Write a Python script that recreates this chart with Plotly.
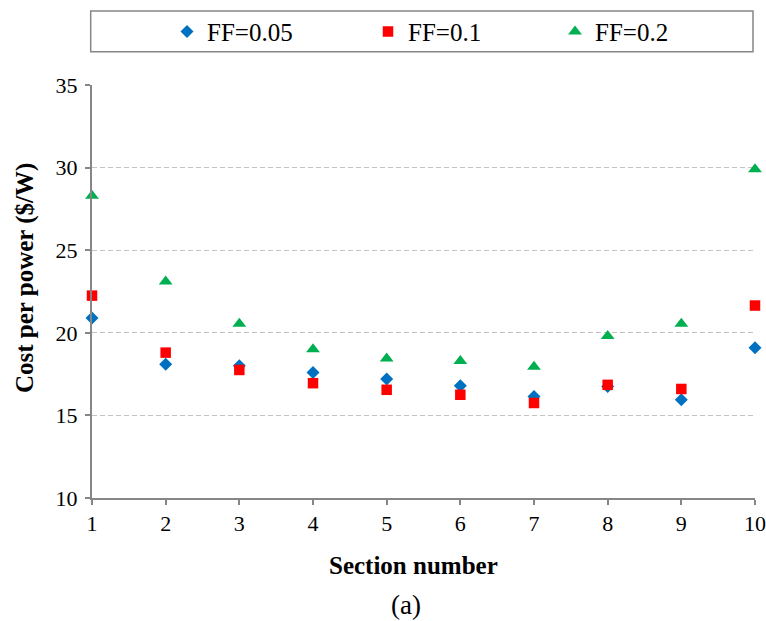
import plotly.graph_objects as go

sections = [1, 2, 3, 4, 5, 6, 7, 8, 9, 10]
ff_005 = [20.9, 18.1, 18.0, 17.6, 17.2, 16.8, 16.15, 16.75, 15.95, 19.1]
ff_01 = [22.25, 18.8, 17.75, 16.95, 16.55, 16.25, 15.75, 16.85, 16.6, 21.65]
ff_02 = [28.3, 23.1, 20.55, 19.0, 18.45, 18.3, 17.95, 19.8, 20.55, 29.9]
series_names = ["FF=0.05", "FF=0.1", "FF=0.2"]
y_ticks = [10, 15, 20, 25, 30, 35]

FONT = "Liberation Serif, Times New Roman, serif"
W, H = 766, 621
L, R, T, B = 92, 11, 85, 123
PW, PH = W - L - R, H - T - B


def px_x(p):
    return (p - L) / PW


def px_y(p):
    return (H - B - p) / PH


fig = go.Figure()
fig.add_trace(go.Scatter(x=sections, y=ff_005, mode="markers", name=series_names[0],
                         marker=dict(symbol="diamond", size=10, color="#0070C0"),
                         cliponaxis=False, legend="legend"))
fig.add_trace(go.Scatter(x=sections, y=ff_01, mode="markers", name=series_names[1],
                         marker=dict(symbol="square", size=10.5, color="#FF0000"),
                         cliponaxis=False, legend="legend2"))
fig.add_trace(go.Scatter(x=sections, y=ff_02, mode="markers", name=series_names[2],
                         marker=dict(symbol="triangle-up", size=12, color="#00B050"),
                         cliponaxis=False, legend="legend3"))

leg_common = dict(orientation="h", yanchor="middle", yref="paper", xanchor="left",
                  font=dict(size=25, family=FONT), bgcolor="rgba(0,0,0,0)",
                  borderwidth=0)
text_starts = [204, 405, 592]
leg_y = px_y(31.7)

fig.update_layout(
    width=W, height=H,
    margin=dict(l=L, r=R, t=T, b=B, autoexpand=False),
    paper_bgcolor="white", plot_bgcolor="white",
    font=dict(family=FONT, color="black", size=22),
    showlegend=True,
    legend=dict(x=px_x(text_starts[0] - 37), y=leg_y, **leg_common),
    legend2=dict(x=px_x(text_starts[1] - 37), y=leg_y, **leg_common),
    legend3=dict(x=px_x(text_starts[2] - 37), y=leg_y, **leg_common),
    xaxis=dict(range=[1, 10], tickvals=sections, showgrid=False, zeroline=False,
               showline=True, linecolor="#868686", linewidth=2,
               ticks="outside", ticklen=5, tickcolor="#868686", tickwidth=1.5,
               tickfont=dict(size=22, family=FONT)),
    yaxis=dict(range=[10, 35], tickvals=y_ticks, showgrid=True, gridcolor="#C4C4C4",
               griddash="5px,3px", gridwidth=1, zeroline=False,
               showline=True, linecolor="#868686", linewidth=2,
               ticks="outside", ticklen=5, tickcolor="#868686", tickwidth=1.5,
               ticklabelstandoff=3,
               tickfont=dict(size=22, family=FONT)),
)

# y axis title
fig.add_annotation(text="<b>Cost per power ($/W)</b>", xref="paper", yref="paper",
                   x=px_x(25), y=px_y(278), xanchor="center", yanchor="middle",
                   textangle=-90, showarrow=False, font=dict(size=25, family=FONT))
# x axis title
fig.add_annotation(text="<b>Section number</b>", xref="paper", yref="paper",
                   x=px_x(413), y=px_y(565), xanchor="center", yanchor="middle",
                   showarrow=False, font=dict(size=25, family=FONT))
fig.add_annotation(text="(a)", xref="paper", yref="paper",
                   x=px_x(405.5), y=px_y(605), xanchor="center", yanchor="middle",
                   showarrow=False, font=dict(size=27, family=FONT))

# legend frame
fig.add_shape(type="rect", xref="paper", yref="paper",
              x0=px_x(90.7), x1=px_x(753), y0=px_y(51.7), y1=px_y(11),
              line=dict(color="#868686", width=1.5), fillcolor="rgba(0,0,0,0)")

fig.write_html("out.html", config={"displayModeBar": False},
               post_script="document.body.style.margin='0';")
